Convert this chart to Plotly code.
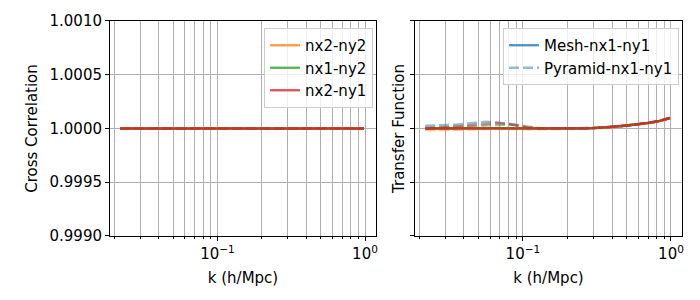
import plotly.graph_objects as go

# ---- data ----
k = [0.0219, 0.0256, 0.0301, 0.0352, 0.0413, 0.0483, 0.0566, 0.0664, 0.0778, 0.0911,
     0.1068, 0.1252, 0.1467, 0.1718, 0.2013, 0.2359, 0.2765, 0.3240, 0.3797, 0.4450,
     0.5215, 0.6111, 0.7161, 0.8392, 0.9840]

cc_nx2_ny2 = [1.0] * 25
cc_nx1_ny2 = [1.0] * 25
cc_nx2_ny1 = [1.0] * 25

# transfer function deviations (units of 1e-5)
mesh_nx1_ny1 = [0.2, 0.3, 0.2, 0.3, 0.4, 0.5, 0.5, 0.4, 0.3, 0.1, 0.0, -0.1, -0.1, 0.0, -0.1, 0.0, 0.2, 0.6, 1.2, 2.0, 3.0, 4.1, 5.3, 7.0, 9.8]
mesh_nx2_ny2 = [-0.2, -0.2, -0.1, 0.0, 0.1, 0.2, 0.2, 0.1, 0.0, -0.1, -0.2, -0.2, -0.1, -0.1, -0.2, -0.1, 0.1, 0.5, 1.1, 1.9, 2.9, 4.0, 5.2, 6.9, 9.7]
mesh_nx1_ny2 = [0.1, 0.2, 0.2, 0.3, 0.3, 0.4, 0.4, 0.3, 0.2, 0.1, 0.0, 0.0, -0.1, 0.0, -0.1, 0.0, 0.2, 0.6, 1.2, 2.0, 3.0, 4.1, 5.3, 7.0, 9.8]
mesh_nx2_ny1 = [0.0, 0.0, 0.0, 0.1, 0.2, 0.3, 0.3, 0.2, 0.1, 0.0, -0.1, -0.1, -0.1, 0.0, -0.1, 0.0, 0.2, 0.6, 1.2, 2.0, 3.0, 4.1, 5.3, 7.0, 9.8]

pyr_nx1_ny1 = [2.5, 2.8, 3.0, 3.5, 4.5, 5.5, 6.2, 5.5, 4.5, 3.0, 1.0, 0.2, 0.0, -0.2, -0.1, 0.0, 0.2, 0.6, 1.2, 2.0, 3.0, 4.1, 5.3, 7.0, 9.8]
pyr_nx2_ny2 = [-1.5, -1.5, -1.5, -1.3, -1.0, -0.8, -0.5, -0.3, -0.3, -0.5, -0.8, -0.6, -0.3, -0.2, -0.3, -0.4, -0.2, 0.5, 1.1, 1.9, 2.9, 4.0, 5.2, 6.9, 9.6]
pyr_nx1_ny2 = [0.5, 0.8, 1.2, 1.5, 2.0, 2.5, 3.0, 3.2, 3.5, 3.2, 1.5, 0.5, 0.2, 0.0, -0.1, 0.0, 0.2, 0.6, 1.2, 2.0, 3.0, 4.1, 5.3, 7.0, 9.8]
pyr_nx2_ny1 = [0.0, 0.3, 0.8, 1.5, 2.5, 3.5, 4.5, 5.0, 4.8, 3.0, 1.0, 0.3, 0.0, 0.0, -0.1, 0.0, 0.2, 0.6, 1.2, 2.0, 3.0, 4.1, 5.3, 7.0, 9.8]

yticks = [0.9990, 0.9995, 1.0000, 1.0005, 1.0010]
xmajor = [0.1, 1.0]
xmajor_text = ["10<sup>−1</sup>", "10<sup>0</sup>"]
xminor = [0.02, 0.03, 0.04, 0.05, 0.06, 0.07, 0.08, 0.09,
          0.2, 0.3, 0.4, 0.5, 0.6, 0.7, 0.8, 0.9]

# ---- styling ----
C = {"blue": (31, 119, 180), "orange": (255, 127, 14), "green": (44, 160, 44), "red": (214, 39, 40)}
def rgba(c, a):
    r, g, b = C[c]
    return f"rgba({r},{g},{b},{a})"

FONT = "DejaVu Sans"
FS = 15
fig = go.Figure()

def tf(vals):
    return [1.0 + v * 1e-5 for v in vals]

# left panel
left = [("nx2-ny2", cc_nx2_ny2, "orange"), ("nx1-ny2", cc_nx1_ny2, "green"), ("nx2-ny1", cc_nx2_ny1, "red")]
for name, vals, col in left:
    fig.add_trace(go.Scatter(x=k, y=vals, mode="lines", name=name, legend="legend",
                             line=dict(color=rgba(col, 0.8), width=2.3), xaxis="x", yaxis="y"))
    fig.add_trace(go.Scatter(x=k, y=vals, mode="lines", showlegend=False,
                             line=dict(color=rgba(col, 0.5), width=2.3, dash="10px,4px"), xaxis="x", yaxis="y"))

# right panel
right = [("blue", mesh_nx1_ny1, pyr_nx1_ny1, True), ("orange", mesh_nx2_ny2, pyr_nx2_ny2, False),
         ("green", mesh_nx1_ny2, pyr_nx1_ny2, False), ("red", mesh_nx2_ny1, pyr_nx2_ny1, False)]
for col, m, p, lab in right:
    fig.add_trace(go.Scatter(x=k, y=tf(m), mode="lines", name="Mesh-nx1-ny1", showlegend=lab, legend="legend2",
                             line=dict(color=rgba(col, 0.8), width=2.3), xaxis="x2", yaxis="y2"))
    fig.add_trace(go.Scatter(x=k, y=tf(p), mode="lines", name="Pyramid-nx1-ny1", showlegend=lab, legend="legend2",
                             line=dict(color=rgba(col, 0.5), width=2.5, dash="10px,4px"), xaxis="x2", yaxis="y2"))

xrange = [-1.728, 0.0745]
grid = "#b0b0b0"
def xaxis(domain, anchor):
    return dict(type="log", domain=domain, anchor=anchor, range=xrange, automargin=False,
                tickvals=xmajor, ticktext=xmajor_text, ticks="outside", ticklen=4, tickcolor="black",
                showgrid=True, gridcolor=grid, gridwidth=0.8,
                minor=dict(tickvals=xminor, ticks="outside", ticklen=2, tickcolor="black",
                           showgrid=True, gridcolor=grid, gridwidth=0.8),
                showline=True, mirror=True, linecolor="black", linewidth=1, zeroline=False,
                title=dict(text="k (h/Mpc)", font=dict(size=FS, color="black"), standoff=10),
                tickfont=dict(size=FS, color="black"))

def yaxis(domain, anchor, labels, title, standoff):
    return dict(domain=domain, anchor=anchor, range=[0.999, 1.001], tickvals=yticks, automargin=False,
                tickformat=".4f", showticklabels=labels, ticks="outside", ticklen=4, tickcolor="black",
                showgrid=True, gridcolor=grid, gridwidth=0.8, zeroline=False,
                showline=True, mirror=True, linecolor="black", linewidth=1,
                title=dict(text=title, font=dict(size=FS, color="black"), standoff=standoff),
                tickfont=dict(size=FS, color="black"))

# page body has an 8px margin: figure is 692x292 placed at (8,8)
yd = [0.2192, 0.9555]
fig.update_layout(
    width=692, height=292, margin=dict(l=0, r=0, t=0, b=0, autoexpand=False),
    paper_bgcolor="white", plot_bgcolor="white",
    font=dict(family=FONT, size=FS, color="black"),
    xaxis=xaxis([0.1474, 0.5318], "y"),
    yaxis=yaxis(yd, "x", True, "Cross Correlation", 8),
    xaxis2=xaxis([0.5882, 0.9740], "y2"),
    yaxis2=yaxis(yd, "x2", False, "Transfer Function", 1),
    legend=dict(x=0.5275, y=0.9315, xanchor="right", yanchor="top", bgcolor="rgba(255,255,255,0.8)",
                bordercolor="#cccccc", borderwidth=1, font=dict(size=FS, family=FONT), tracegroupgap=0),
    legend2=dict(x=0.9697, y=0.9315, xanchor="right", yanchor="top", bgcolor="rgba(255,255,255,0.8)",
                 bordercolor="#cccccc", borderwidth=1, font=dict(size=FS, family=FONT), tracegroupgap=0),
    showlegend=True,
)

fig.write_html("out.html")
